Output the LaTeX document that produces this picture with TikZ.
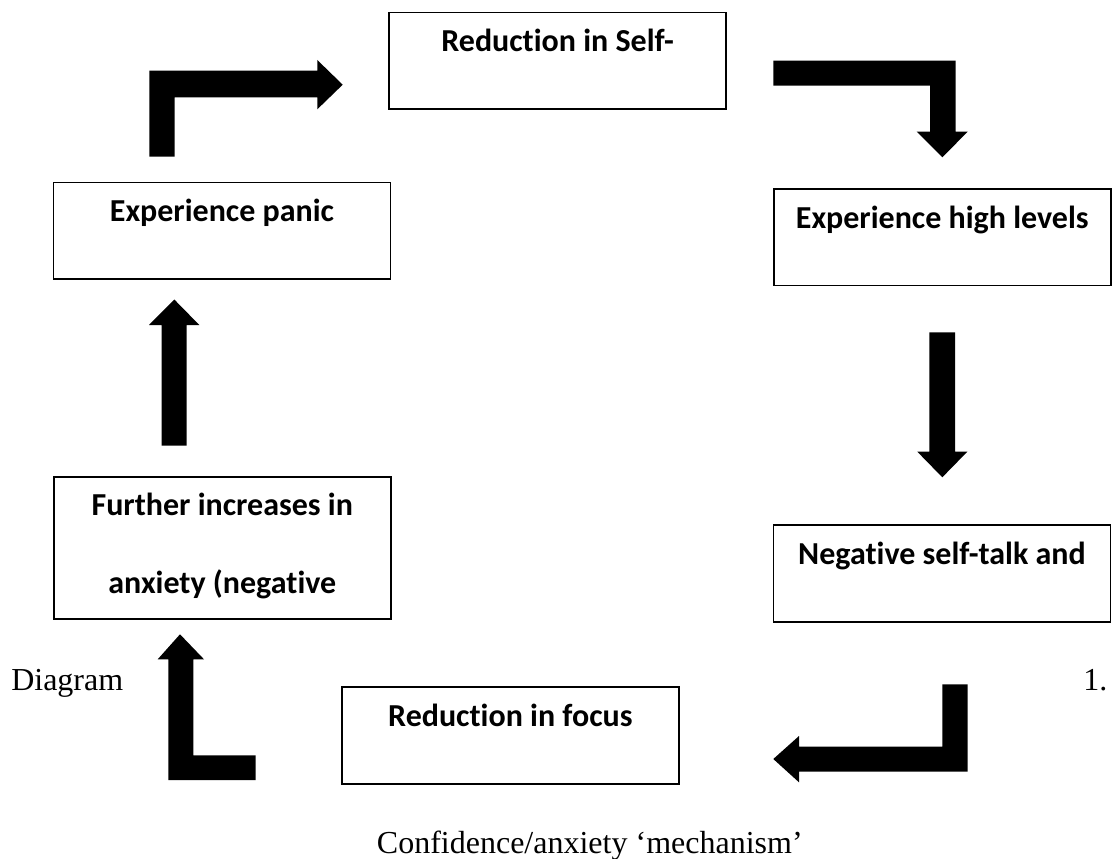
\documentclass[tikz,border=0pt]{standalone}
\usepackage{fontspec}
\setmainfont{Liberation Serif}
\newfontfamily\boxfont[Ligatures=NoCommon]{Carlito}
\begin{document}
\begin{tikzpicture}[x=0.75pt,y=-0.75pt,
  stagebox/.style={draw=black,line width=1.3pt,fill=white,rectangle,
    minimum width=252.75pt,minimum height=72.4pt,inner sep=0pt},
  stagetext/.style={anchor=base,inner sep=0pt,
    font=\boxfont\bfseries\fontsize{24pt}{28pt}\selectfont},
  bodytext/.style={inner sep=0pt,font=\fontsize{24pt}{28pt}\selectfont},
  blockarrow/.style={fill=black,draw=none}]
\useasboundingbox (0,0) rectangle (1113,859);

% stage boxes
\node[stagebox] (self)    at (557.6,60.7)  {};
\node[stagebox] (high)    at (942.3,237.2) {};
\node[stagebox] (neg)     at (942.0,573.4) {};
\node[stagebox] (focus)   at (510.4,735.4) {};
\node[stagebox,minimum height=106.5pt] (further) at (222.3,548.3) {};
\node[stagebox] (panic)   at (222.0,230.9) {};

% box texts, each baseline sits 40px below the top edge
\node[stagetext] at ([yshift=-30pt]self.north)   {Reduction in Self-};
\node[stagetext] at ([yshift=-30pt]high.north)   {Experience high levels};
\node[stagetext] at ([yshift=-30pt]neg.north)    {Negative self-talk and};
\node[stagetext] at ([yshift=-30pt]focus.north)  {Reduction in focus};
\node[stagetext] at ([yshift=-29.5pt]further.north) {Further increases in};
\node[stagetext] at ([yshift=-88pt]further.north)   {anxiety (negative};
\node[stagetext] at ([yshift=-30pt]panic.north)  {Experience panic};

% block arrows between the stages
% panic -> self
\fill[blockarrow] (149.3,156.7) -- (149.3,70.7) -- (317.3,70.7) -- (317.3,60)
  -- (342.7,84.7) -- (317.3,109.3) -- (317.3,97.3) -- (174.7,97.3)
  -- (174.7,156.7) -- cycle;
% self -> high
\fill[blockarrow] (773.3,60.7) -- (955.7,60.7) -- (955.7,131.7) -- (967.7,131.7)
  -- (942.3,157.3) -- (916.7,131.7) -- (930,131.7) -- (930,85.7)
  -- (773.3,85.7) -- cycle;
% high -> neg
\fill[blockarrow] (929.3,332.3) -- (955,332.3) -- (955,451.7) -- (967.3,451.7)
  -- (942.3,477.3) -- (917.3,451.7) -- (929.3,451.7) -- cycle;
% neg -> focus
\fill[blockarrow] (942.3,684.3) -- (967.7,684.3) -- (967.7,771.7) -- (799,771.7)
  -- (799,782.3) -- (773.3,759) -- (799,736) -- (799,746.7)
  -- (942.3,746.7) -- cycle;
% focus -> further
\fill[blockarrow] (255.7,780) -- (168.3,780) -- (168.3,659.3) -- (157.7,659.3)
  -- (180,634.3) -- (204,659.3) -- (193.3,659.3) -- (193.3,755.3)
  -- (255.7,755.3) -- cycle;
% further -> panic
\fill[blockarrow] (161.7,445.7) -- (161.7,325) -- (149,325) -- (174.3,299.5)
  -- (199.3,325) -- (186.7,325) -- (186.7,445.7) -- cycle;

% caption
\node[bodytext,anchor=base west] (capA) at (11,690) {Diagram};
\node[bodytext,anchor=base west] (capB) at (1083,690) {1.};
\node[bodytext,anchor=base west] (capC) at (376.7,853) {Confidence/anxiety ‘mechanism’};
\end{tikzpicture}
\end{document}
